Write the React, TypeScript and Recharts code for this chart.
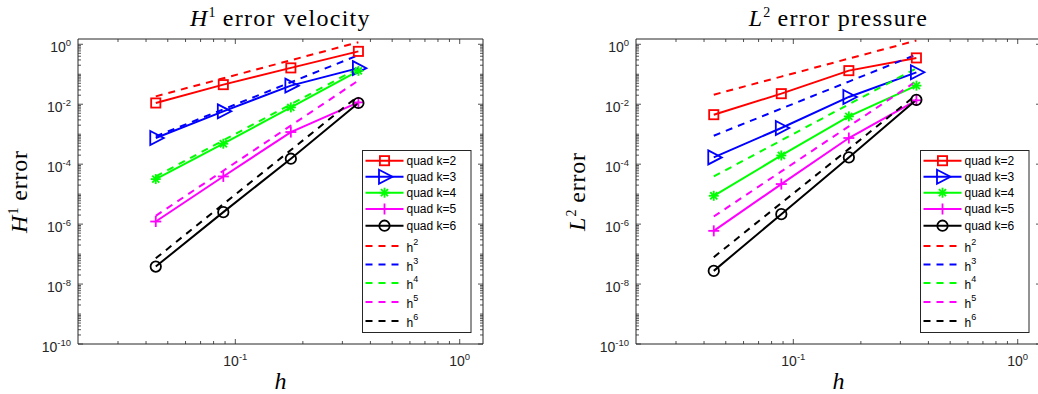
import React from 'react';
import { LineChart, Line, XAxis, YAxis, Legend } from 'recharts';

// ---------- data ----------
const hValues = [0.0442, 0.0884, 0.1768, 0.3536];

// H1 error velocity (solid, quad k=2..6)
const velK2 = [0.011, 0.045, 0.163, 0.58];
const velK3 = [7.46e-4, 5.78e-3, 0.0417, 0.16];
const velK4 = [3.18e-5, 4.81e-4, 7.85e-3, 0.13];
const velK5 = [1.22e-6, 3.89e-5, 1.18e-3, 0.0115];
const velK6 = [3.83e-8, 2.51e-6, 1.52e-4, 0.011];
// reference slopes (dashed) for velocity panel
const velH2 = [0.0183, 0.0733, 0.293, 1.17];
const velH3 = [8.45e-4, 6.76e-3, 0.0541, 0.433];
const velH4 = [3.89e-5, 6.22e-4, 9.95e-3, 0.159];
const velH5 = [1.89e-6, 6.05e-5, 1.94e-3, 0.0619];
const velH6 = [7.24e-8, 4.63e-6, 2.96e-4, 0.019];

// L2 error pressure
const presK2 = [4.48e-3, 0.0225, 0.132, 0.351];
const presK3 = [1.68e-4, 1.61e-3, 0.0175, 0.116];
const presK4 = [8.81e-6, 1.95e-4, 3.93e-3, 0.0417];
const presK5 = [5.96e-7, 2.17e-5, 7.46e-4, 0.0135];
const presK6 = [2.75e-8, 2.15e-6, 1.68e-4, 0.014];
const presH2 = [0.0208, 0.0834, 0.333, 1.33];
const presH3 = [8.91e-4, 7.13e-3, 0.057, 0.456];
const presH4 = [3.89e-5, 6.22e-4, 9.95e-3, 0.159];
const presH5 = [1.79e-6, 5.73e-5, 1.83e-3, 0.0586];
const presH6 = [7.89e-8, 5.05e-6, 3.23e-4, 0.0207];

// series descriptions
const solidNames = ['quad k=2', 'quad k=3', 'quad k=4', 'quad k=5', 'quad k=6'];
const refExponents = ['2', '3', '4', '5', '6'];
const seriesColors = ['#FF0000', '#0000FF', '#00FF00', '#FF00FF', '#000000'];
const markerKinds = ['square', 'triangle', 'star', 'plus', 'circle'];

// axes
const xDomain = [0.0199, 1.27];
const yDomain = [1e-10, 1.5];
const xMajorTicks = [0.1, 1];
const xMinorTicks = [0.03, 0.04, 0.05, 0.06, 0.07, 0.08, 0.09, 0.2, 0.3, 0.4, 0.5, 0.6, 0.7, 0.8, 0.9];
const xTickLabels = ['-1', '0'];
const yMajorExponents = [-10, -8, -6, -4, -2, 0];
const yDecadeExponents = [-10, -9, -8, -7, -6, -5, -4, -3, -2, -1, 0];
const minorMultipliers = [2, 3, 4, 5, 6, 7, 8, 9];

const xTicks = [...xMinorTicks, ...xMajorTicks].sort((a, b) => a - b);
const yTicks: number[] = [];
yDecadeExponents.forEach((e) => {
  yTicks.push(Math.pow(10, e));
  if (e < 0) minorMultipliers.forEach((m) => yTicks.push(m * Math.pow(10, e)));
});
yTicks.sort((a, b) => a - b);

const AXIS = '#262626';
const SANS = '"Liberation Sans", Arial, Helvetica, sans-serif';
const SERIF = '"Liberation Serif", "Times New Roman", serif';

function near(a: number, b: number) {
  return Math.abs(Math.log10(a) - Math.log10(b)) < 1e-6;
}
function yMajorExp(v: number): number | null {
  for (const e of yMajorExponents) if (near(v, Math.pow(10, e))) return e;
  return null;
}
function xMajorIndex(v: number): number {
  for (let i = 0; i < xMajorTicks.length; i++) if (near(v, xMajorTicks[i])) return i;
  return -1;
}

// ---------- markers ----------
function MarkerShape({ kind, cx, cy, color }: { kind: string; cx: number; cy: number; color: string }) {
  const sw = 1.8;
  if (cx == null || cy == null || isNaN(cx) || isNaN(cy)) return null;
  switch (kind) {
    case 'square':
      return <rect x={cx - 4.6} y={cy - 4.6} width={9.2} height={9.2} fill="none" stroke={color} strokeWidth={sw} />;
    case 'triangle':
      return (
        <polygon
          points={`${cx - 5.5},${cy - 7} ${cx + 8},${cy} ${cx - 5.5},${cy + 7}`}
          fill="none"
          stroke={color}
          strokeWidth={sw}
          strokeLinejoin="miter"
        />
      );
    case 'star': {
      const r = 5;
      const d = r * 0.7071;
      return (
        <g stroke={color} strokeWidth={sw}>
          <line x1={cx - r} y1={cy} x2={cx + r} y2={cy} />
          <line x1={cx} y1={cy - r} x2={cx} y2={cy + r} />
          <line x1={cx - d} y1={cy - d} x2={cx + d} y2={cy + d} />
          <line x1={cx - d} y1={cy + d} x2={cx + d} y2={cy - d} />
        </g>
      );
    }
    case 'plus': {
      const r = 5.5;
      return (
        <g stroke={color} strokeWidth={sw}>
          <line x1={cx - r} y1={cy} x2={cx + r} y2={cy} />
          <line x1={cx} y1={cy - r} x2={cx} y2={cy + r} />
        </g>
      );
    }
    default:
      return <circle cx={cx} cy={cy} r={5.2} fill="none" stroke={color} strokeWidth={sw} />;
  }
}

// ---------- ticks ----------
function LeftTick(props: any) {
  const { x, y, payload } = props;
  const e = yMajorExp(payload.value);
  const major = e !== null;
  return (
    <g>
      <line x1={x} y1={y} x2={x + (major ? 5 : 3)} y2={y} stroke={AXIS} strokeWidth={0.8} />
      {major && (
        <text x={x - 7} y={y + 7.5} textAnchor="end" fontFamily={SANS} fontSize={14} fill={AXIS}>
          10
          <tspan fontSize={9.5} dy={-6}>
            {String(e)}
          </tspan>
        </text>
      )}
    </g>
  );
}
function RightTick(props: any) {
  const { x, y, payload } = props;
  const major = yMajorExp(payload.value) !== null;
  return <line x1={x} y1={y} x2={x - (major ? 5 : 3)} y2={y} stroke={AXIS} strokeWidth={0.8} />;
}
function BottomTick(props: any) {
  const { x, y, payload } = props;
  const idx = xMajorIndex(payload.value);
  const major = idx >= 0;
  return (
    <g>
      <line x1={x} y1={y} x2={x} y2={y - (major ? 5 : 3)} stroke={AXIS} strokeWidth={0.8} />
      {major && (
        <text x={x} y={y + 22} textAnchor="middle" fontFamily={SANS} fontSize={14} fill={AXIS}>
          10
          <tspan fontSize={9.5} dy={-6}>
            {xTickLabels[idx]}
          </tspan>
        </text>
      )}
    </g>
  );
}
function TopTick(props: any) {
  const { x, y, payload } = props;
  const major = xMajorIndex(payload.value) >= 0;
  return <line x1={x} y1={y} x2={x} y2={y + (major ? 5 : 3)} stroke={AXIS} strokeWidth={0.8} />;
}

// ---------- legend ----------
const legendSolidRows = [10.7, 26.7, 42.7, 59, 75.7];
const legendRefRows = [96, 114.5, 133, 152, 171];

function LegendBox() {
  return (
    <svg width={110} height={184} style={{ display: 'block' }}>
      <rect x={0.5} y={0.5} width={108.5} height={182} fill="#fff" stroke={AXIS} strokeWidth={1} />
      {solidNames.map((name, i) => {
        const y = legendSolidRows[i];
        return (
          <g key={name}>
            <line x1={3.5} x2={41.5} y1={y} y2={y} stroke={seriesColors[i]} strokeWidth={2} />
            <MarkerShape kind={markerKinds[i]} cx={22.5} cy={y} color={seriesColors[i]} />
            <text x={44.5} y={y + 4.3} fontFamily={SANS} fontSize={12} fill="#000">
              {name}
            </text>
          </g>
        );
      })}
      {refExponents.map((p, i) => {
        const y = legendRefRows[i];
        return (
          <g key={p}>
            <line x1={3.5} x2={41.5} y1={y} y2={y} stroke={seriesColors[i]} strokeWidth={2} strokeDasharray="7 6" />
            <text x={44.5} y={y + 6} fontFamily={SANS} fontSize={12} fill="#000">
              h
              <tspan fontSize={9} dy={-7}>
                {p}
              </tspan>
            </text>
          </g>
        );
      })}
    </svg>
  );
}

// ---------- panel ----------
function buildRows(solid: number[][], refs: number[][]) {
  return hValues.map((h, i) => {
    const row: Record<string, number> = { h };
    solid.forEach((arr, k) => (row[`k${k + 2}`] = arr[i]));
    refs.forEach((arr, k) => (row[`h${k + 2}`] = arr[i]));
    return row;
  });
}

const W = 520;
const H = 394;
// plot area: left 78, top 39, right 483, bottom 344 (axes take 1px each)
const MARGIN = { top: 38, right: 36, bottom: 49, left: 77 };
const PLOT = { left: 78, top: 39, right: 483, bottom: 344 };

function Panel({
  left,
  solid,
  refs,
  titleLetter,
  titleSup,
  titleRest,
}: {
  left: number;
  solid: number[][];
  refs: number[][];
  titleLetter: string;
  titleSup: string;
  titleRest: string;
}) {
  const data = buildRows(solid, refs);
  const plotCx = (PLOT.left + PLOT.right) / 2;
  const plotCy = (PLOT.top + PLOT.bottom) / 2;
  return (
    <div style={{ position: 'absolute', left, top: 0, width: W, height: H }}>
      <LineChart width={W} height={H} data={data} margin={MARGIN}>
        <XAxis
          xAxisId="b"
          dataKey="h"
          type="number"
          scale="log"
          domain={xDomain}
          allowDataOverflow
          ticks={xTicks}
          interval={0}
          height={1}
          tickSize={0}
          tickMargin={0}
          tickLine={false}
          stroke={AXIS}
          tick={BottomTick}
        />
        <XAxis
          xAxisId="t"
          orientation="top"
          dataKey="h"
          type="number"
          scale="log"
          domain={xDomain}
          allowDataOverflow
          ticks={xTicks}
          interval={0}
          height={1}
          tickSize={0}
          tickMargin={0}
          tickLine={false}
          stroke={AXIS}
          tick={TopTick}
        />
        <YAxis
          yAxisId="l"
          type="number"
          scale="log"
          domain={yDomain}
          allowDataOverflow
          ticks={yTicks}
          interval={0}
          width={1}
          tickSize={0}
          tickMargin={0}
          tickLine={false}
          stroke={AXIS}
          tick={LeftTick}
        />
        <YAxis
          yAxisId="r"
          orientation="right"
          type="number"
          scale="log"
          domain={yDomain}
          allowDataOverflow
          ticks={yTicks}
          interval={0}
          width={1}
          tickSize={0}
          tickMargin={0}
          tickLine={false}
          stroke={AXIS}
          tick={RightTick}
        />
        {solidNames.map((name, i) => (
          <Line
            key={name}
            xAxisId="b"
            yAxisId="l"
            dataKey={`k${i + 2}`}
            name={name}
            stroke={seriesColors[i]}
            strokeWidth={2}
            isAnimationActive={false}
            activeDot={false}
            dot={(p: any) => (
              <MarkerShape key={`${name}-${p.index}`} kind={markerKinds[i]} cx={p.cx} cy={p.cy} color={seriesColors[i]} />
            )}
          />
        ))}
        {refExponents.map((p, i) => (
          <Line
            key={p}
            xAxisId="b"
            yAxisId="l"
            dataKey={`h${i + 2}`}
            name={`h^${p}`}
            stroke={seriesColors[i]}
            strokeWidth={2}
            strokeDasharray="7 6"
            isAnimationActive={false}
            activeDot={false}
            dot={false}
          />
        ))}
        <Legend
          layout="vertical"
          align="center"
          verticalAlign="middle"
          content={() => <LegendBox />}
          wrapperStyle={{ left: 362, top: 150, width: 110, height: 184, margin: 0, padding: 0 }}
        />
      </LineChart>
      <svg
        width={W}
        height={H}
        style={{ position: 'absolute', left: 0, top: 0, pointerEvents: 'none', overflow: 'visible' }}
      >
        <text x={plotCx} y={26} textAnchor="middle" fontFamily={SERIF} fontSize={24} fill="#000">
          <tspan fontStyle="italic">{titleLetter}</tspan>
          <tspan fontSize={14} dy={-9} dx={1}>
            {titleSup}
          </tspan>
          <tspan dy={9} letterSpacing={1.3}>
            {' ' + titleRest}
          </tspan>
        </text>
        <text x={plotCx} y={389} textAnchor="middle" fontFamily={SERIF} fontSize={24} fontStyle="italic" fill="#000">
          h
        </text>
        <text
          transform={`translate(26.5,${plotCy}) rotate(-90)`}
          x={0}
          y={0}
          textAnchor="middle"
          fontFamily={SERIF}
          fontSize={24}
          fill="#000"
        >
          <tspan fontStyle="italic">{titleLetter}</tspan>
          <tspan fontSize={14} dy={-9} dx={1}>
            {titleSup}
          </tspan>
          <tspan dy={9} letterSpacing={0.8}>
            {' error'}
          </tspan>
        </text>
      </svg>
    </div>
  );
}

export default function App() {
  return (
    <div
      style={{
        position: 'absolute',
        left: 0,
        top: 0,
        width: 1038,
        height: 394,
        overflow: 'hidden',
        background: '#fff',
      }}
    >
      <Panel
        left={0}
        solid={[velK2, velK3, velK4, velK5, velK6]}
        refs={[velH2, velH3, velH4, velH5, velH6]}
        titleLetter="H"
        titleSup="1"
        titleRest="error velocity"
      />
      <Panel
        left={558}
        solid={[presK2, presK3, presK4, presK5, presK6]}
        refs={[presH2, presH3, presH4, presH5, presH6]}
        titleLetter="L"
        titleSup="2"
        titleRest="error pressure"
      />
    </div>
  );
}
